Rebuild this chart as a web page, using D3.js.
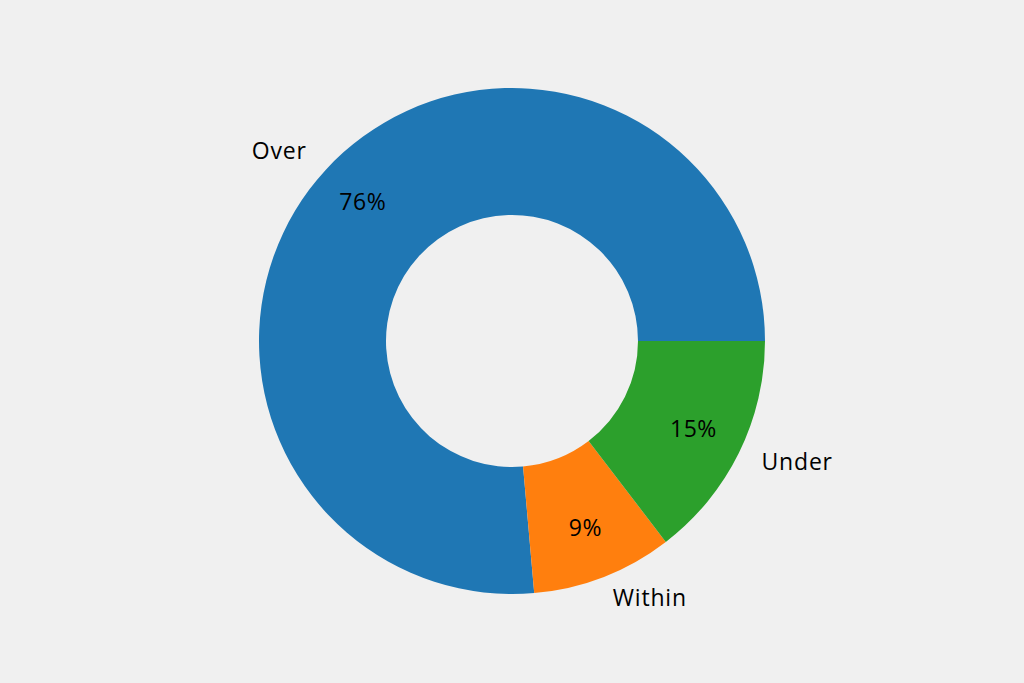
<!DOCTYPE html>
<html>
<head>
<meta charset="utf-8">
<script src="https://cdn.jsdelivr.net/npm/d3@7"></script>
<style>
  body { margin: 0; background: #f0f0f0; }
  text { font-family: "Open Sans", sans-serif; fill: #000; }
</style>
</head>
<body>
<svg id="chart" width="1024" height="683"></svg>
<script>
// data
const categories = ["Over", "Within", "Under"]
const values = [76.4, 9.0, 14.6]
const colors = ["#1f77b4", "#ff7f0e", "#2ca02c"]

const width = 1024, height = 683
const cx = 512, cy = 341
const outerR = 253, innerR = 126

const svg = d3.select("#chart")
svg.append("rect").attr("width", width).attr("height", height).attr("fill", "#f0f0f0")

const data = categories.map((c, i) => ({name: c, value: values[i], color: colors[i]}))

// matplotlib style: start at 3 o'clock, go counter-clockwise
const pie = d3.pie().sort(null).value(d => d.value)
  .startAngle(Math.PI / 2).endAngle(Math.PI / 2 - 2 * Math.PI)
const arcs = pie(data)
const arc = d3.arc().innerRadius(innerR).outerRadius(outerR)

const g = svg.append("g").attr("transform", `translate(${cx},${cy})`)

g.selectAll("path").data(arcs).enter().append("path")
  .attr("d", arc)
  .attr("fill", d => d.data.color)

const total = d3.sum(values)
const pct = d => Math.round(d.data.value / total * 100) + "%"

function pointAt(d, r) {
  const a = (d.startAngle + d.endAngle) / 2
  return [r * Math.sin(a), -r * Math.cos(a)]
}

// percent labels
g.selectAll("text.pct").data(arcs).enter().append("text")
  .attr("class", "pct")
  .attr("x", d => pointAt(d, outerR * 0.8)[0])
  .attr("y", d => pointAt(d, outerR * 0.8)[1] - 3)
  .attr("text-anchor", "middle")
  .attr("dominant-baseline", "central")
  .style("font-size", "23px")
  .style("letter-spacing", "0.5px")
  .text(pct)

// category labels
g.selectAll("text.lab").data(arcs).enter().append("text")
  .attr("class", "lab")
  .attr("x", d => pointAt(d, outerR * 1.1)[0])
  .attr("y", d => pointAt(d, outerR * 1.1)[1] - 3)
  .attr("text-anchor", d => pointAt(d, 1)[0] < 0 ? "end" : "start")
  .attr("dominant-baseline", "central")
  .style("font-size", "23px")
  .style("letter-spacing", "0.8px")
  .text(d => d.data.name)
</script>
</body>
</html>
